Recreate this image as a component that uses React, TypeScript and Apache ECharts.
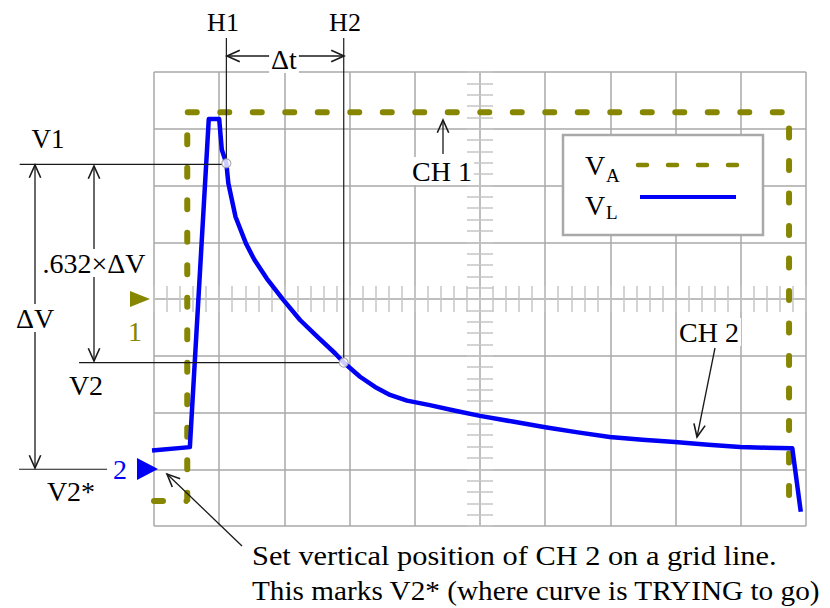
import React, { useEffect, useRef } from "react";
import * as echarts from "echarts";

// Screen divisions: 10 horizontal (-5..5), 8 vertical (-4..4), origin at screen centre.
const vaTime = [-5, -4.49, -4.49, 4.74, 4.74];
const vaVolts = [-3.56, -3.56, 3.29, 3.29, -3.56];

const vlTime = [
  -5.03, -4.45, -4.16, -4.0, -3.96, -3.89, -3.86, -3.75, -3.59, -3.46, -3.27,
  -3.02, -2.76, -2.5, -2.22, -2.09, -1.84, -1.61, -1.38, -1.12, -0.77, -0.38,
  0, 0.5, 1.0, 1.5, 1.99, 2.49, 2.99, 3.5, 3.99, 4.39, 4.79, 4.92,
];
const vlVolts = [
  -2.67, -2.61, 3.17, 3.17, 2.63, 2.39, 2.04, 1.45, 0.98, 0.69, 0.36,
  -0.01, -0.37, -0.66, -0.96, -1.12, -1.37, -1.55, -1.69, -1.79, -1.87, -1.97,
  -2.06, -2.16, -2.26, -2.35, -2.43, -2.48, -2.52, -2.57, -2.61, -2.62, -2.63, -3.75,
];

// Cursor readings H1/V1 and H2/V2, plus the V2* reference grid line
const cursorTime = [-3.89, -2.09];
const cursorVolts = [2.39, -1.12];
const v2StarVolts = -3;
const cursorTop = 4.6;
const v1LineStart = -7.06;
const v2LineStart = -6.15;
const v2StarRange = [-7.07, -5.72];

const OLIVE = "#878600";
const BLUE = "#0000f5";
const GRID = "#a9a9a9";
const TICK = "#c6c6c6";
const INK = "#1a1a1a";
const FONT = '"Liberation Serif", "Times New Roman", serif';

function zip(a: number[], b: number[]) {
  return a.map((v, i) => [v, b[i]]);
}

function text(
  str: string,
  x: number,
  y: number,
  opts: { size?: number; fill?: string; align?: string; bg?: boolean; scaleX?: number } = {}
) {
  const align = opts.align || "center";
  return {
    type: "text",
    x,
    y,
    scaleX: opts.scaleX || 1,
    z: 30,
    silent: true,
    style: {
      text: str,
      font: `${opts.size || 28}px ${FONT}`,
      fill: opts.fill || "#000",
      align,
      textAlign: align,
      verticalAlign: "middle",
      textVerticalAlign: "middle",
      backgroundColor: opts.bg ? "#fff" : undefined,
      padding: opts.bg ? [0, 2, 0, 2] : undefined,
    },
  };
}

function seg(x1: number, y1: number, x2: number, y2: number, width = 1.3) {
  return {
    type: "line",
    z: 20,
    silent: true,
    shape: { x1, y1, x2, y2 },
    style: { stroke: INK, lineWidth: width },
  };
}

function arrow(x1: number, y1: number, x2: number, y2: number, both: boolean) {
  const els: any[] = [seg(x1, y1, x2, y2)];
  const head = (tx: number, ty: number, fx: number, fy: number) => {
    const ang = Math.atan2(fy - ty, fx - tx);
    const len = 14;
    const spread = 0.42;
    return {
      type: "polyline",
      z: 20,
      silent: true,
      shape: {
        points: [
          [tx + len * Math.cos(ang + spread), ty + len * Math.sin(ang + spread)],
          [tx, ty],
          [tx + len * Math.cos(ang - spread), ty + len * Math.sin(ang - spread)],
        ],
      },
      style: { stroke: INK, lineWidth: 1.6, fill: null },
    };
  };
  els.push(head(x2, y2, x1, y1));
  if (both) els.push(head(x1, y1, x2, y2));
  return els;
}

// Grid axes draw the division lines; the tick axes are shifted onto the centre cross
function gridAxis(min: number, max: number) {
  return {
    type: "value",
    min,
    max,
    interval: 1,
    axisLine: { show: false },
    axisTick: { show: false },
    axisLabel: { show: false },
    splitLine: { show: true, lineStyle: { color: GRID, width: 1.5 } },
  };
}

function tickAxis(min: number, max: number, position: string, offset: number) {
  return {
    type: "value",
    min,
    max,
    interval: 1,
    position,
    offset,
    axisLine: { show: false, onZero: false },
    axisTick: { show: true, inside: false, length: 26, lineStyle: { color: TICK, width: 1.5 } },
    minorTick: { show: true, splitNumber: 5, length: 26, lineStyle: { color: TICK, width: 1.5 } },
    splitLine: { show: false },
    axisLabel: { show: false },
  };
}

export default function App() {
  const ref = useRef<HTMLDivElement>(null);

  useEffect(() => {
    if (!ref.current) return;
    const chart = echarts.init(ref.current, undefined, { renderer: "svg" });

    chart.setOption({
      animation: false,
      backgroundColor: "#fff",
      grid: { left: 154, top: 72, width: 652, height: 454, containLabel: false },
      xAxis: [gridAxis(-5, 5), tickAxis(-5, 5, "bottom", -240)],
      yAxis: [gridAxis(-4, 4), tickAxis(-4, 4, "left", -339)],
      series: [
        {
          name: "VA",
          type: "line",
          data: zip(vaTime, vaVolts),
          symbol: "none",
          clip: false,
          silent: true,
          z: 3,
          lineStyle: { color: OLIVE, width: 6, type: [9, 23.5], cap: "round" },
        },
        {
          name: "VL",
          type: "line",
          data: zip(vlTime, vlVolts),
          symbol: "none",
          clip: false,
          silent: true,
          z: 4,
          lineStyle: { color: BLUE, width: 4.5, join: "round" },
        },
        {
          name: "cursors",
          type: "scatter",
          data: zip(cursorTime, cursorVolts),
          symbol: "circle",
          symbolSize: 9,
          clip: false,
          silent: true,
          z: 6,
          itemStyle: { color: "#fff", borderColor: "#9a9a9a", borderWidth: 1.2 },
        },
      ],
    });

    const px = (x: number, y: number) =>
      chart.convertToPixel({ xAxisIndex: 0, yAxisIndex: 0 }, [x, y]) as number[];

    const h1 = px(cursorTime[0], cursorVolts[0]);
    const h2 = px(cursorTime[1], cursorVolts[1]);
    const h1Top = px(cursorTime[0], cursorTop);
    const h2Top = px(cursorTime[1], cursorTop);
    const v1Start = px(v1LineStart, cursorVolts[0]);
    const v2Start = px(v2LineStart, cursorVolts[1]);
    const v2sA = px(v2StarRange[0], v2StarVolts);
    const v2sB = px(v2StarRange[1], v2StarVolts);

    const graphic: any[] = [
      // cursor lines
      { ...seg(h1[0], h1Top[1], h1[0], h1[1] - 4.5, 1.2), z: 5 },
      { ...seg(h2[0], h2Top[1], h2[0], h2[1] - 4.5, 1.2), z: 5 },
      { ...seg(v1Start[0], h1[1] + 1, h1[0] - 4.5, h1[1] + 1, 1.2), z: 5 },
      { ...seg(v2Start[0], h2[1], h2[0] - 4.5, h2[1], 1.2), z: 5 },
      { ...seg(v2sA[0], v2sA[1], v2sB[0], v2sB[1], 1.2), z: 5 },
      // legend box
      {
        type: "rect",
        z: 10,
        silent: true,
        shape: { x: 563, y: 135, width: 200, height: 100 },
        style: { fill: "#fff", stroke: GRID, lineWidth: 2.5 },
      },
      text("V", 585, 165, { align: "left" }),
      text("A", 606, 175, { align: "left", size: 19 }),
      {
        type: "line",
        z: 12,
        silent: true,
        shape: { x1: 638, y1: 165, x2: 741, y2: 165 },
        style: { stroke: OLIVE, lineWidth: 4.5, lineDash: [9, 21], lineCap: "round" },
      },
      text("V", 585, 205, { align: "left" }),
      text("L", 606, 212, { align: "left", size: 19 }),
      {
        type: "line",
        z: 12,
        silent: true,
        shape: { x1: 640, y1: 197, x2: 736, y2: 197 },
        style: { stroke: BLUE, lineWidth: 4 },
      },
      // channel position markers
      {
        type: "polygon",
        z: 12,
        silent: true,
        shape: { points: [[130, 291], [150, 299], [130, 307]] },
        style: { fill: OLIVE },
      },
      text("1", 135, 331, { fill: OLIVE }),
      {
        type: "polygon",
        z: 12,
        silent: true,
        shape: { points: [[137, 458], [158, 469], [137, 480]] },
        style: { fill: BLUE },
      },
      text("2", 120, 469, { fill: BLUE }),
      // dimension arrows
      ...arrow(344, 56, 227, 56, true),
      ...arrow(35, 468, 35, 165, true),
      ...arrow(94, 361, 94, 166, true),
      ...arrow(443, 154, 443, 120, false),
      ...arrow(715, 348, 697, 437, false),
      ...arrow(242, 546, 167, 474, false),
      // labels
      text("H1", 223, 22, { size: 26 }),
      text("H2", 345, 22, { size: 26 }),
      text("\u0394t", 284, 59, { bg: true }),
      text("V1", 48, 139, { size: 27 }),
      text("\u0394V", 35, 318, { bg: true }),
      text(".632\u00d7\u0394V", 94, 263, { bg: true }),
      text("V2", 86, 385),
      text("V2*", 71, 491),
      text("CH 1", 442, 171, { bg: true }),
      text("CH 2", 709, 332, { bg: true }),
      text("Set vertical position of CH 2 on a grid line.", 252, 555, {
        align: "left",
        scaleX: 1.085,
      }),
      text("This marks V2* (where curve is TRYING to go)", 252, 590, {
        align: "left",
        scaleX: 1.045,
      }),
    ];

    chart.setOption({ graphic });

    return () => chart.dispose();
  }, []);

  return (
    <div
      ref={ref}
      style={{ position: "absolute", left: 0, top: 0, width: 830, height: 608 }}
    />
  );
}
